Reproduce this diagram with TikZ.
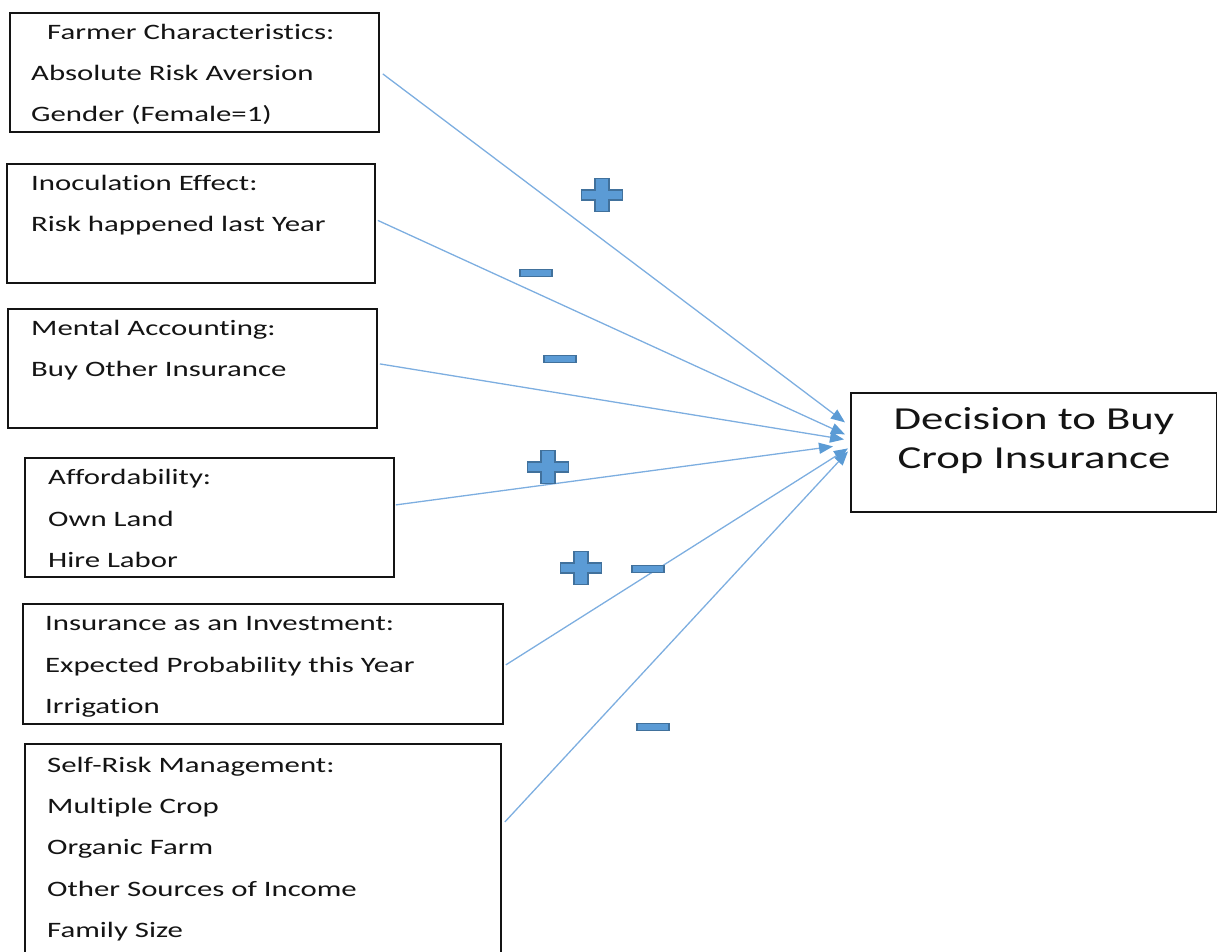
\documentclass[tikz,border=0pt]{standalone}
\usepackage{fontspec}
\setmainfont[FakeStretch=1.4, Ligatures=NoCommon]{Carlito}
\usetikzlibrary{arrows.meta}
\definecolor{linkblue}{HTML}{7DAEE0}
\definecolor{signfill}{HTML}{5B9BD5}
\definecolor{signedge}{HTML}{41719C}
\definecolor{ink}{HTML}{141414}

\tikzset{
  plussign/.pic={
    \path[fill=signfill, draw=signedge, line width=1.2pt]
      (-20.5,-5) -- (-7,-5) -- (-7,-16.5) -- (7,-16.5) -- (7,-5) -- (20.5,-5)
      -- (20.5,5) -- (7,5) -- (7,16.5) -- (-7,16.5) -- (-7,5) -- (-20.5,5) -- cycle;
  },
  minussign/.pic={
    \path[fill=signfill, draw=signedge, line width=1.2pt] (-16,-3.5) rectangle (16,3.5);
  }
}

\begin{document}
\begin{tikzpicture}[x=1pt, y=-1pt,
  box/.style={draw=ink, line width=1.8pt, inner sep=0pt, anchor=north west},
  lbl/.style={anchor=base west, inner sep=0pt, text=ink, font=\fontsize{22}{26}\selectfont},
  bigtxt/.style={anchor=base, inner sep=0pt, text=ink, font=\fontsize{32}{38}\selectfont},
  link/.style={draw=linkblue, line width=1.3pt,
    -{Triangle[length=14pt, width=11pt, color=signfill]}},
]
\useasboundingbox (0,0) rectangle (1217,951);

% factor boxes
\node[box, minimum width=369pt, minimum height=119pt] (b1) at (9,12) {};
\node[box, minimum width=368pt, minimum height=119pt] (b2) at (6,163) {};
\node[box, minimum width=369pt, minimum height=119pt] (b3) at (7,308) {};
\node[box, minimum width=369pt, minimum height=119pt] (b4) at (24,457) {};
\node[box, minimum width=480pt, minimum height=120pt] (b5) at (22,603) {};
\begin{scope}
  \clip (0,0) rectangle (1217,951);
  \node[box, minimum width=476pt, minimum height=240pt] (b6) at (24,743) {};
\end{scope}

% outcome box
\node[box, minimum width=366pt, minimum height=119pt] (dec) at (850,392) {};
\node[bigtxt] (d1) at (1034,429) {Decision to Buy};
\node[bigtxt] (d2) at (1034,468) {Crop Insurance};

% box texts
\node[lbl] (t11) at (47,39) {Farmer Characteristics:};
\node[lbl] (t12) at (31,80) {Absolute Risk Aversion};
\node[lbl] (t13) at (31,121) {Gender (Female=1)};

\node[lbl] (t21) at (31,190) {Inoculation Effect:};
\node[lbl] (t22) at (31,231) {Risk happened last Year};

\node[lbl] (t31) at (31,335) {Mental Accounting:};
\node[lbl] (t32) at (31,376) {Buy Other Insurance};

\node[lbl] (t41) at (48,484) {Affordability:};
\node[lbl] (t42) at (48,526) {Own Land};
\node[lbl] (t43) at (48,567) {Hire Labor};

\node[lbl] (t51) at (45,630) {Insurance as an Investment:};
\node[lbl] (t52) at (45,672) {Expected Probability this Year};
\node[lbl] (t53) at (45,713) {Irrigation};

\node[lbl] (t61) at (47,772) {Self-Risk Management:};
\node[lbl] (t62) at (47,813) {Multiple Crop};
\node[lbl] (t63) at (47,854) {Organic Farm};
\node[lbl] (t64) at (47,896) {Other Sources of Income};
\node[lbl] (t65) at (47,937) {Family Size};

% connectors
\draw[link] ([shift={(3,1.5)}]b1.east) -- ([shift={(-5,-30)}]dec.west);
\draw[link] ([shift={(2,-3)}]b2.east) -- ([shift={(-5,-18)}]dec.west);
\draw[link] ([shift={(2,-4.5)}]b3.east) -- ([shift={(-6,-13)}]dec.west);
\draw[link] ([shift={(1,-12.5)}]b4.east) -- ([shift={(-17,-6)}]dec.west);
\draw[link] ([shift={(2,1)}]b5.east) -- ([shift={(-2,-4)}]dec.west);
\draw[link] ([shift={(3,79)}]b6.north east) -- ([shift={(-2,-1)}]dec.west);

% effect signs
\pic at (602,195) {plussign};
\pic at (536,273) {minussign};
\pic at (560,359) {minussign};
\pic at (548,467) {plussign};
\pic at (581,568) {plussign};
\pic at (648,569) {minussign};
\pic at (653,727) {minussign};
\end{tikzpicture}
\end{document}
